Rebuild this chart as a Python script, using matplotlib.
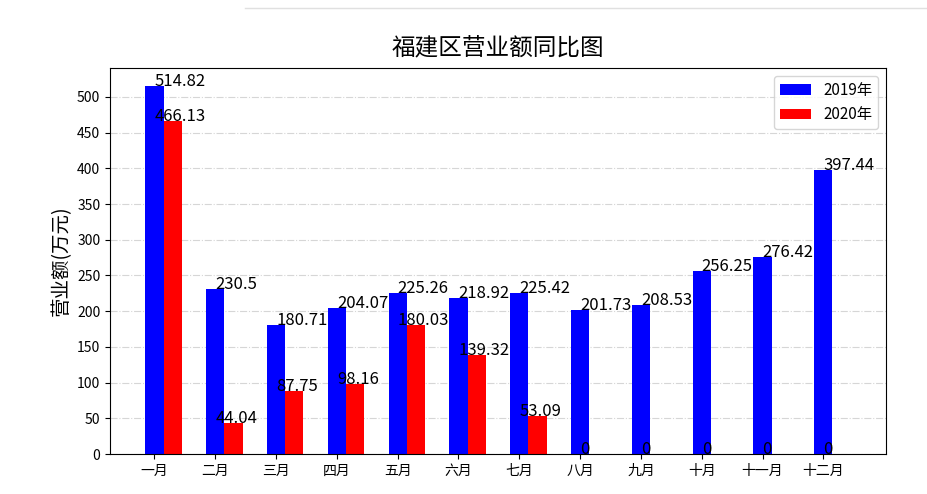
import numpy as np
import matplotlib
matplotlib.use('Agg')
import matplotlib.pyplot as plt
from matplotlib.lines import Line2D

plt.rcParams['font.family'] = ['Noto Sans CJK SC', 'DejaVu Sans']
plt.rcParams['axes.unicode_minus'] = False

months = ['一月', '二月', '三月', '四月', '五月', '六月',
          '七月', '八月', '九月', '十月', '十一月', '十二月']
sales_2019 = [514.82, 230.5, 180.71, 204.07, 225.26, 218.92,
              225.42, 201.73, 208.53, 256.25, 276.42, 397.44]
sales_2020 = [466.13, 44.04, 87.75, 98.16, 180.03, 139.32,
              53.09, 0, 0, 0, 0, 0]

fig = plt.figure(figsize=(9.27, 4.94), dpi=100)
fig.subplots_adjust(left=110/927, right=886/927, top=1-68/494, bottom=1-454/494)
ax = fig.add_subplot(111)

x = np.arange(len(months))
w = 0.3
ax.bar(x, sales_2019, width=w, color='blue', label='2019年')
ax.bar(x + w, sales_2020, width=w, color='red', label='2020年')

# 数值标签
for i in range(len(months)):
    ax.text(x[i], sales_2019[i], str(sales_2019[i]), fontsize=12)
    ax.text(x[i], sales_2020[i], str(sales_2020[i]), fontsize=12)

ax.set_xticks(x)
ax.set_xticklabels(months, fontsize=10)
ax.set_yticks(np.arange(0, 501, 50))
ax.tick_params(axis='y', labelsize=10)
ax.set_ylabel('营业额(万元)', fontsize=14)
ax.set_title('福建区营业额同比图', fontsize=17, pad=9)
ax.grid(axis='y', linestyle='-.', color='#cccccc', alpha=0.8)
ax.set_axisbelow(True)
ax.legend(loc='upper right', fontsize=11)

# 截图顶部的浅色分隔线
fig.add_artist(Line2D([245/927, 1], [1-8/494, 1-8/494], color='#e0e0e0', lw=1))

fig.savefig('out.png', dpi=100)
